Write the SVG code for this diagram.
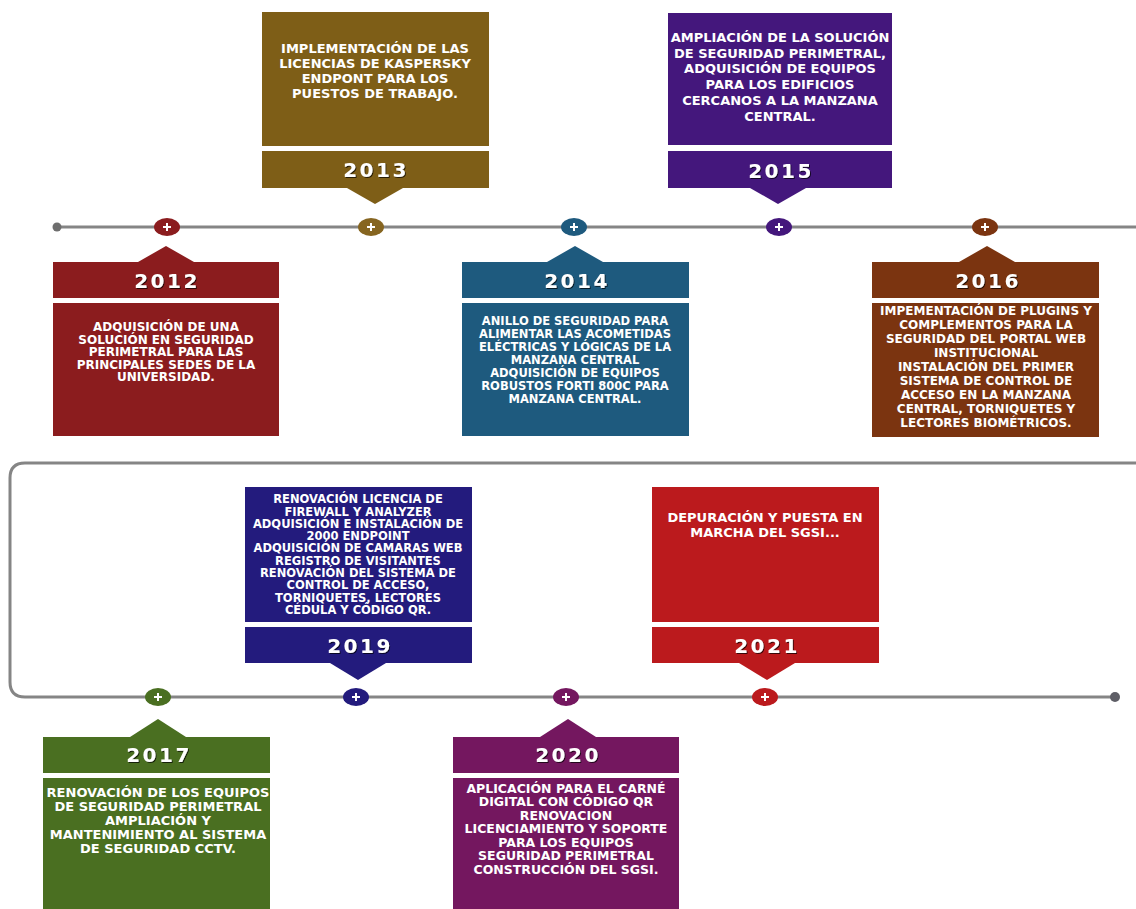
<svg xmlns="http://www.w3.org/2000/svg" width="1136" height="909" viewBox="0 0 1136 909">
<defs>
<style>
.body{font-family:"DejaVu Sans","Liberation Sans",sans-serif;font-weight:bold;fill:#ffffff;text-anchor:middle}
.yr{font-family:"DejaVu Sans","Liberation Sans",sans-serif;font-weight:bold;fill:#ffffff;text-anchor:middle;font-size:20px;letter-spacing:2.5px;filter:url(#sh)}
.line{fill:none;stroke:#858585;stroke-width:3}
.plus{stroke:#ffffff;stroke-width:2;fill:none}
</style>
<filter id="sh" x="-20%" y="-30%" width="140%" height="160%">
<feDropShadow dx="1" dy="1" stdDeviation="0.6" flood-color="#000" flood-opacity="0.7"/>
</filter>
</defs>
<rect width="1136" height="909" fill="#ffffff"/>

<g id="connectors">
<line class="line" x1="57" y1="227" x2="1136" y2="227"/>
<circle cx="57" cy="227" r="4.5" fill="#6e6e6e"/>
<path class="line" d="M1136 463 H25 Q10 463 10 478 V682 Q10 697 25 697 H1115"/>
<circle cx="1115" cy="697" r="5" fill="#5e5e66"/>
</g>

<g id="n2012">
<ellipse cx="167" cy="227" rx="13" ry="9" fill="#8b1c1e"/>
<path class="plus" d="M163 227h8M167 223v8"/>
<polygon points="138,262 166,246 194,262" fill="#8b1c1e"/>
<rect x="53" y="262" width="226" height="36" fill="#8b1c1e"/>
<rect x="53" y="303" width="226" height="133" fill="#8b1c1e"/>
<text class="yr" x="167" y="288">2012</text>
<g class="body" font-size="12">
<text x="166" y="331">ADQUISICIÓN DE UNA</text>
<text x="166" y="344">SOLUCIÓN  EN SEGURIDAD</text>
<text x="166" y="356">PERIMETRAL PARA LAS</text>
<text x="166" y="369">PRINCIPALES SEDES DE LA</text>
<text x="166" y="381">UNIVERSIDAD.</text>
</g>
</g>

<g id="n2013">
<ellipse cx="371" cy="227" rx="13" ry="9" fill="#866520"/>
<path class="plus" d="M367 227h8M371 223v8"/>
<rect x="262" y="12" width="227" height="134" fill="#7e5e17"/>
<rect x="262" y="151" width="227" height="37" fill="#7e5e17"/>
<polygon points="347,188 375,204 403,188" fill="#7e5e17"/>
<text class="yr" x="376" y="177">2013</text>
<g class="body" font-size="13">
<text x="375" y="53">IMPLEMENTACIÓN DE LAS</text>
<text x="375" y="68">LICENCIAS DE KASPERSKY</text>
<text x="375" y="83">ENDPONT PARA LOS</text>
<text x="375" y="98">PUESTOS DE TRABAJO.</text>
</g>
</g>

<g id="n2014">
<ellipse cx="574" cy="227" rx="13" ry="9" fill="#1e5a7e"/>
<path class="plus" d="M570 227h8M574 223v8"/>
<polygon points="547,262 575,246 603,262" fill="#1e5a7e"/>
<rect x="462" y="262" width="227" height="36" fill="#1e5a7e"/>
<rect x="462" y="303" width="227" height="133" fill="#1e5a7e"/>
<text class="yr" x="577" y="288">2014</text>
<g class="body" font-size="11.5">
<text x="575" y="325">ANILLO DE SEGURIDAD PARA</text>
<text x="575" y="338">ALIMENTAR LAS ACOMETIDAS</text>
<text x="575" y="351">ELÉCTRICAS Y LÓGICAS DE LA</text>
<text x="575" y="364">MANZANA CENTRAL</text>
<text x="575" y="377">ADQUISICIÓN DE EQUIPOS</text>
<text x="575" y="390">ROBUSTOS FORTI 800C PARA</text>
<text x="575" y="403">MANZANA CENTRAL.</text>
</g>
</g>

<g id="n2015">
<ellipse cx="779" cy="227" rx="13" ry="9" fill="#44177c"/>
<path class="plus" d="M775 227h8M779 223v8"/>
<rect x="668" y="13" width="224" height="132" fill="#44177c"/>
<rect x="668" y="151" width="224" height="37" fill="#44177c"/>
<polygon points="750,188 778,204 806,188" fill="#44177c"/>
<text class="yr" x="781" y="178">2015</text>
<g class="body" font-size="13">
<text x="780" y="42">AMPLIACIÓN DE LA SOLUCIÓN</text>
<text x="780" y="57.5">DE SEGURIDAD PERIMETRAL,</text>
<text x="780" y="73.3">ADQUISICIÓN DE EQUIPOS</text>
<text x="780" y="89">PARA LOS EDIFICIOS</text>
<text x="780" y="105">CERCANOS A LA MANZANA</text>
<text x="780" y="121">CENTRAL.</text>
</g>
</g>

<g id="n2016">
<ellipse cx="985" cy="227" rx="13" ry="9" fill="#7b3410"/>
<path class="plus" d="M981 227h8M985 223v8"/>
<polygon points="959,262 987,246 1015,262" fill="#7b3410"/>
<rect x="872" y="262" width="227" height="36" fill="#7b3410"/>
<rect x="872" y="303" width="227" height="134" fill="#7b3410"/>
<text class="yr" x="988" y="288">2016</text>
<g class="body" font-size="12">
<text x="986" y="315.4">IMPEMENTACIÓN DE PLUGINS Y</text>
<text x="986" y="329.4">COMPLEMENTOS PARA LA</text>
<text x="986" y="343.4">SEGURIDAD DEL PORTAL WEB</text>
<text x="986" y="357.4">INSTITUCIONAL</text>
<text x="986" y="371.4">INSTALACIÓN DEL PRIMER</text>
<text x="986" y="385.4">SISTEMA DE CONTROL DE</text>
<text x="986" y="399.4">ACCESO EN LA MANZANA</text>
<text x="986" y="413.4">CENTRAL, TORNIQUETES Y</text>
<text x="986" y="427.4">LECTORES BIOMÉTRICOS.</text>
</g>
</g>

<g id="n2017">
<ellipse cx="158" cy="697" rx="13" ry="9" fill="#4a6f21"/>
<path class="plus" d="M154 697h8M158 693v8"/>
<polygon points="130,737 158,719 186,737" fill="#4a6f21"/>
<rect x="43" y="737" width="227" height="36" fill="#4a6f21"/>
<rect x="43" y="778" width="227" height="131" fill="#4a6f21"/>
<text class="yr" x="159" y="762">2017</text>
<g class="body" font-size="13">
<text x="158" y="796.7">RENOVACIÓN DE LOS EQUIPOS</text>
<text x="158" y="810.7">DE SEGURIDAD PERIMETRAL</text>
<text x="158" y="824.7">AMPLIACIÓN Y</text>
<text x="158" y="838.7">MANTENIMIENTO AL SISTEMA</text>
<text x="158" y="852.7">DE SEGURIDAD CCTV.</text>
</g>
</g>

<g id="n2019">
<ellipse cx="356" cy="697" rx="13" ry="9" fill="#231b7d"/>
<path class="plus" d="M352 697h8M356 693v8"/>
<rect x="245" y="487" width="227" height="135" fill="#231b7d"/>
<rect x="245" y="627" width="227" height="36" fill="#231b7d"/>
<polygon points="330,663 358,680 386,663" fill="#231b7d"/>
<text class="yr" x="360" y="653">2019</text>
<g class="body" font-size="11.5">
<text x="358" y="503.2">RENOVACIÓN LICENCIA DE</text>
<text x="358" y="515.5">FIREWALL Y ANALYZER</text>
<text x="358" y="527.8">ADQUISICIÓN E INSTALACIÓN DE</text>
<text x="358" y="540.1">2000 ENDPOINT</text>
<text x="358" y="552.4">ADQUISICIÓN DE CAMARAS WEB</text>
<text x="358" y="564.7">REGISTRO DE VISITANTES</text>
<text x="358" y="577">RENOVACIÓN DEL SISTEMA DE</text>
<text x="358" y="589.3">CONTROL DE ACCESO,</text>
<text x="358" y="601.6">TORNIQUETES, LECTORES</text>
<text x="358" y="613.9">CÉDULA Y CÓDIGO QR.</text>
</g>
</g>

<g id="n2020">
<ellipse cx="566" cy="697" rx="13" ry="9" fill="#74175f"/>
<path class="plus" d="M562 697h8M566 693v8"/>
<polygon points="540,737 568,719 596,737" fill="#74175f"/>
<rect x="453" y="737" width="226" height="36" fill="#74175f"/>
<rect x="453" y="778" width="226" height="131" fill="#74175f"/>
<text class="yr" x="568" y="762">2020</text>
<g class="body" font-size="12.5">
<text x="566" y="792.5">APLICACIÓN PARA EL CARNÉ</text>
<text x="566" y="806">DIGITAL CON CÓDIGO QR</text>
<text x="566" y="819.5">RENOVACION</text>
<text x="566" y="833">LICENCIAMIENTO Y SOPORTE</text>
<text x="566" y="846.5">PARA LOS EQUIPOS</text>
<text x="566" y="860">SEGURIDAD PERIMETRAL</text>
<text x="566" y="873.5">CONSTRUCCIÓN DEL SGSI.</text>
</g>
</g>

<g id="n2021">
<ellipse cx="765" cy="697" rx="13" ry="9" fill="#bb1a1d"/>
<path class="plus" d="M761 697h8M765 693v8"/>
<rect x="652" y="487" width="227" height="135" fill="#bb1a1d"/>
<rect x="652" y="627" width="227" height="36" fill="#bb1a1d"/>
<polygon points="739,663 767,680 795,663" fill="#bb1a1d"/>
<text class="yr" x="767" y="653">2021</text>
<g class="body" font-size="13">
<text x="765" y="521.7">DEPURACIÓN Y PUESTA EN</text>
<text x="765" y="536.7">MARCHA DEL SGSI...</text>
</g>
</g>
</svg>
